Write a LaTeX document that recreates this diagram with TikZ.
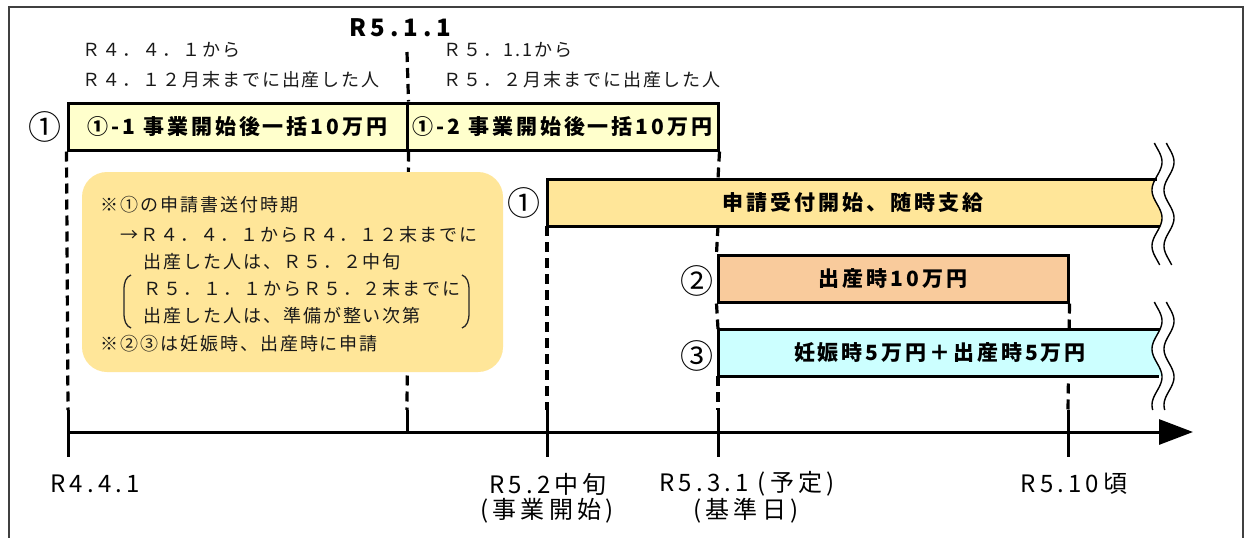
\documentclass[tikz,border=0pt]{standalone}
\usepackage{fontspec}
\usetikzlibrary{arrows.meta}
\newfontfamily\jp{Noto Sans CJK JP}
\newfontfamily\jpthin{Noto Sans CJK JP}[LetterSpace=11]
\newfontfamily\jpbold{Noto Sans CJK JP}[LetterSpace=14]
\newfontfamily\jpdate{Noto Sans CJK JP}[LetterSpace=17]
\newfontfamily\jptop{Noto Sans CJK JP}[LetterSpace=20]
\definecolor{lightyel}{HTML}{FFFFCC}
\definecolor{sand}{HTML}{FFE699}
\definecolor{peach}{HTML}{F9CB9C}
\definecolor{aqua}{HTML}{CCFFFF}
\tikzset{
  bx/.style={draw, line width=3pt, minimum height=47pt, inner sep=0pt,
    font=\jpbold\bfseries\fontsize{21}{24}\selectfont},
  bartext/.style={inner sep=0pt, font=\jpbold\bfseries\fontsize{21}{24}\selectfont},
  dsh/.style={line width=3.2pt, dash pattern=on 10pt off 6pt},
  tickline/.style={line width=3pt},
  edge/.style={line width=3pt},
  note/.style={anchor=west, inner sep=0pt, text=black!90, font=\jpthin\fontsize{18}{20}\selectfont},
  circ/.style={inner sep=0pt, font=\jp\fontsize{33}{34}\selectfont},
  datelbl/.style={inner sep=0pt, font=\jpdate\fontsize{24}{26}\selectfont},
  toplbl/.style={inner sep=0pt, font=\jptop\bfseries\fontsize{24}{26}\selectfont},
  wave/.style={line width=1.4pt},
  paren/.style={line width=1.3pt, black!85},
}
\begin{document}
\begin{tikzpicture}[x=1pt,y=-1pt]
\useasboundingbox (0,0) rectangle (1248,538);
\fill[white] (0,0) rectangle (1248,538);
\draw[line width=1.5pt, black!75] (9,538) -- (9,7) -- (1243,7) -- (1243,538);

% top label
\node[toplbl] (t0) at (400,28) {R5.1.1};

% period notes
\node[note] (n1a) at (82,50) {Ｒ４．４．１から};
\node[note] (n1b) at (82,80) {Ｒ４．１２月末までに出産した人};
\node[note] (n2a) at (443,50) {Ｒ５．1.1から};
\node[note] (n2b) at (443,80) {Ｒ５．２月末までに出産した人};

% boxes 1-1, 1-2
\node[bx, fill=lightyel, minimum width=339pt] (b1) at (237.5,126.5) {①-1 事業開始後一括10万円};
\node[bx, fill=lightyel, minimum width=311pt] (b2) at (562.5,126.5) {①-2 事業開始後一括10万円};
\node[circ] (c0) at (45,127) {①};

% bar 2
\node[bx, fill=peach, minimum width=350pt] (bar2) at (893,278.5) {出産時10万円};

% axis
\coordinate (ax0) at (68,432);
\coordinate (axend) at (1193,432);
\draw[line width=3pt, -{Triangle[length=34pt,width=25pt]}] (ax0) -- (axend);
\foreach \xx in {68,547,718,1068} {\draw[tickline] (\xx,410) -- (\xx,457);}
\draw[tickline] (407,410) -- (407,432);

% dashed guides
\draw[dsh] (b1.south west) -- (68,410);
\draw[dsh] (407,52) -- (b1.north east);
\draw[dsh] (b1.south east) -- (407,410);
\draw[dsh] (547,226) -- (547,410);
\draw[dsh] (b2.south east) -- (718,179);
\draw[dsh] (718,226) -- (bar2.north west);
\draw[dsh] (bar2.south west) -- (718,329);
\draw[dsh] (718,376) -- (718,410);
\draw[dsh] (bar2.south east) -- (1068,410);

% memo box
\node[fill=sand, rounded corners=25pt, minimum width=421pt, minimum height=200pt, inner sep=0pt] (memo) at (292.5,272) {};
\node[note] (m1) at (100,205) {※①の申請書送付時期};
\node[note] (m2) at (120,235) {→Ｒ４．４．１からＲ４．１２末までに};
\node[note] (m3) at (143,262) {出産した人は、Ｒ５．２中旬};
\node[note] (m4) at (143,289) {Ｒ５．１．１からＲ５．２末までに};
\node[note] (m5) at (143,316) {出産した人は、準備が整い次第};
\node[note] (m6) at (100,344) {※②③は妊娠時、出産時に申請};
\draw[paren] (131,275) .. controls (126,277) and (124,282) .. (124,290) -- (124,313) .. controls (124,321) and (126,326) .. (131,328);
\draw[paren] (462,275) .. controls (467,277) and (469,282) .. (469,290) -- (469,313) .. controls (469,321) and (467,326) .. (462,328);

% bar 1 (wavy right end)
\fill[sand] (547,179) -- plot[variable=\t, domain=179:226, samples=40] ({1157+5*cos(6.43*(\t-162))},{\t}) -- (547,226) -- cycle;
\draw[edge] (1157,179) -- (547,179) -- (547,226) -- (1160,226);
\node[bartext] (bar1) at (853,202.5) {申請受付開始、随時支給};
\node[circ] (c1) at (524,203) {①};
\draw[wave] plot[variable=\t, domain=143:265, samples=90] ({1157+5*cos(6.43*(\t-162))},{\t});
\draw[wave] plot[variable=\t, domain=143:265, samples=90] ({1169+5*cos(6.43*(\t-162))},{\t});

\node[circ] (c2) at (697,281) {②};

% bar 3 (wavy right end)
\fill[aqua] (718,329) -- plot[variable=\t, domain=329:376, samples=40] ({1157+5*cos(6.43*(\t-321))},{\t}) -- (718,376) -- cycle;
\draw[edge] (1160,329) -- (718,329) -- (718,376) -- (1159,376);
\node[bartext] (bar3) at (940,352.5) {妊娠時5万円＋出産時5万円};
\node[circ] (c3) at (697,356) {③};
\draw[wave] plot[variable=\t, domain=302:410, samples=80] ({1157+5*cos(6.43*(\t-321))},{\t});
\draw[wave] plot[variable=\t, domain=302:410, samples=80] ({1169+5*cos(6.43*(\t-321))},{\t});

% date labels
\node[datelbl] (d1) at (95,484) {R4.4.1};
\node[datelbl] (d2) at (548,484) {R5.2中旬};
\node[datelbl] (d2b) at (547,511) {(事業開始)};
\node[datelbl] (d3) at (747,484) {R5.3.1 (予定)};
\node[datelbl] (d3b) at (746,511) {(基準日)};
\node[datelbl] (d4) at (1074,484) {R5.10頃};
\end{tikzpicture}
\end{document}
